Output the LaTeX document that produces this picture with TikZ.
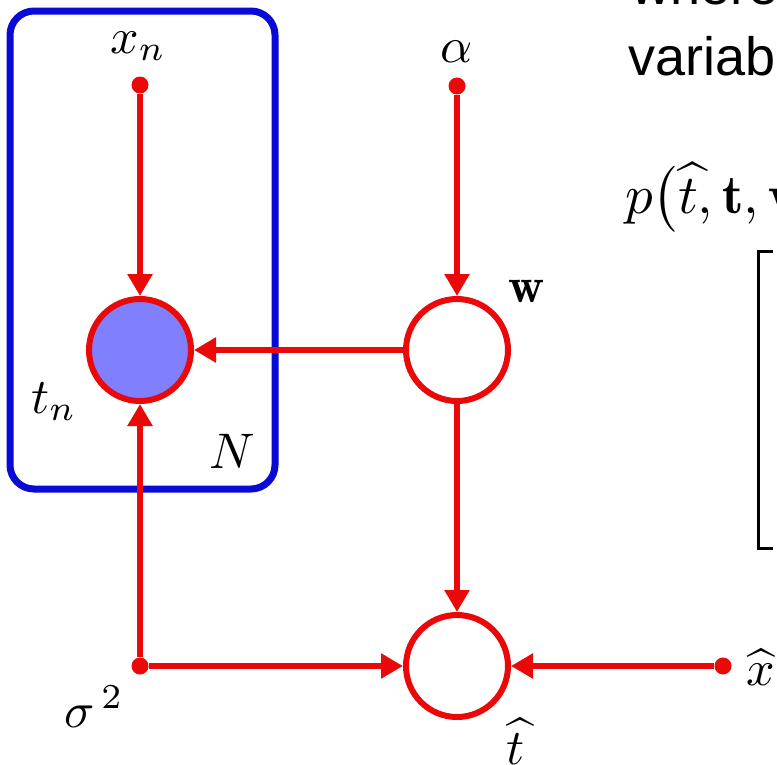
\documentclass[tikz,border=0pt]{standalone}
\usepackage{fontspec}
\newfontfamily\arialf{Liberation Sans}
\usetikzlibrary{arrows.meta}
\definecolor{edgered}{RGB}{235,8,8}
\definecolor{plateblue}{RGB}{10,10,215}
\definecolor{obsfill}{RGB}{128,128,255}
\newcommand{\biglbl}[1]{\scalebox{5.0}{#1}}
\begin{document}
\begin{tikzpicture}[x=1pt,y=-1pt,
  var/.style={circle,draw=edgered,line width=6pt,minimum size=102pt,inner sep=0pt,fill=white},
  obs/.style={var,fill=obsfill},
  dotnode/.style={circle,fill=edgered,minimum size=17pt,inner sep=0pt},
  lbl/.style={inner sep=0pt},
  slide/.style={inner sep=0pt,anchor=base west,font=\arialf\fontsize{54}{60}\selectfont},
  edge/.style={draw=edgered,line width=6pt,-{Triangle[length=22pt,width=24pt]}},
  plate/.style={draw=plateblue,line width=7pt,rounded corners=24pt}
]
\useasboundingbox (0,0) rectangle (777,764);
\clip (0,0) rectangle (777,764);
\fill[white] (0,0) rectangle (777,764);

% plate
\draw[plate] (10,11) rectangle (275,489);

% nodes
\node[obs] (tn) at (140,350) {};
\node[var] (w) at (457,350) {};
\node[var] (th) at (457,666) {};
\node[dotnode] (xn) at (140,85) {};
\node[dotnode] (al) at (457,86) {};
\node[dotnode] (sg) at (140,666) {};
\node[dotnode] (xh) at (723,666) {};

% edges
\draw[edge] (xn) -- (tn);
\draw[edge] (al) -- (w);
\draw[edge] (w) -- (tn);
\draw[edge] (w) -- (th);
\draw[edge] (sg) -- (tn);
\draw[edge] (sg) -- (th);
\draw[edge] (xh) -- (th);

% labels
\node[lbl,anchor=base west] (lxn) at (110,53) {\biglbl{$x_n$}};
\node[lbl,anchor=base] (lal) at (457,62) {\biglbl{$\alpha$}};
\node[lbl,anchor=base] (lw) at (527,302) {\biglbl{$\mathbf{w}$}};
\node[lbl,anchor=base west] (ltn) at (31,413) {\biglbl{$t_n$}};
\node[lbl,anchor=base] (lN) at (232,468) {\biglbl{$N$}};
\node[lbl,anchor=base west] (lsg) at (64,727) {\biglbl{$\sigma^{\,2}$}};
\node[lbl,anchor=base] (lth) at (516,764) {\biglbl{$\widehat{t}$}};
\node[lbl,anchor=base west] (lxh) at (746,685) {\biglbl{$\widehat{x}$}};

% slide text
\node[slide] (where) at (631,4) {where};
\node[slide] (varb) at (628,75) {variabl};
\node[inner sep=0pt,anchor=base west] (eq) at (625,213) {\scalebox{5.5}{$p\bigl(\widehat{t},\mathbf{t},\mathbf{w}$}};
\draw[line width=3pt] (773,251) -- (758,251) -- (758,548) -- (773,548);
\end{tikzpicture}
\end{document}
